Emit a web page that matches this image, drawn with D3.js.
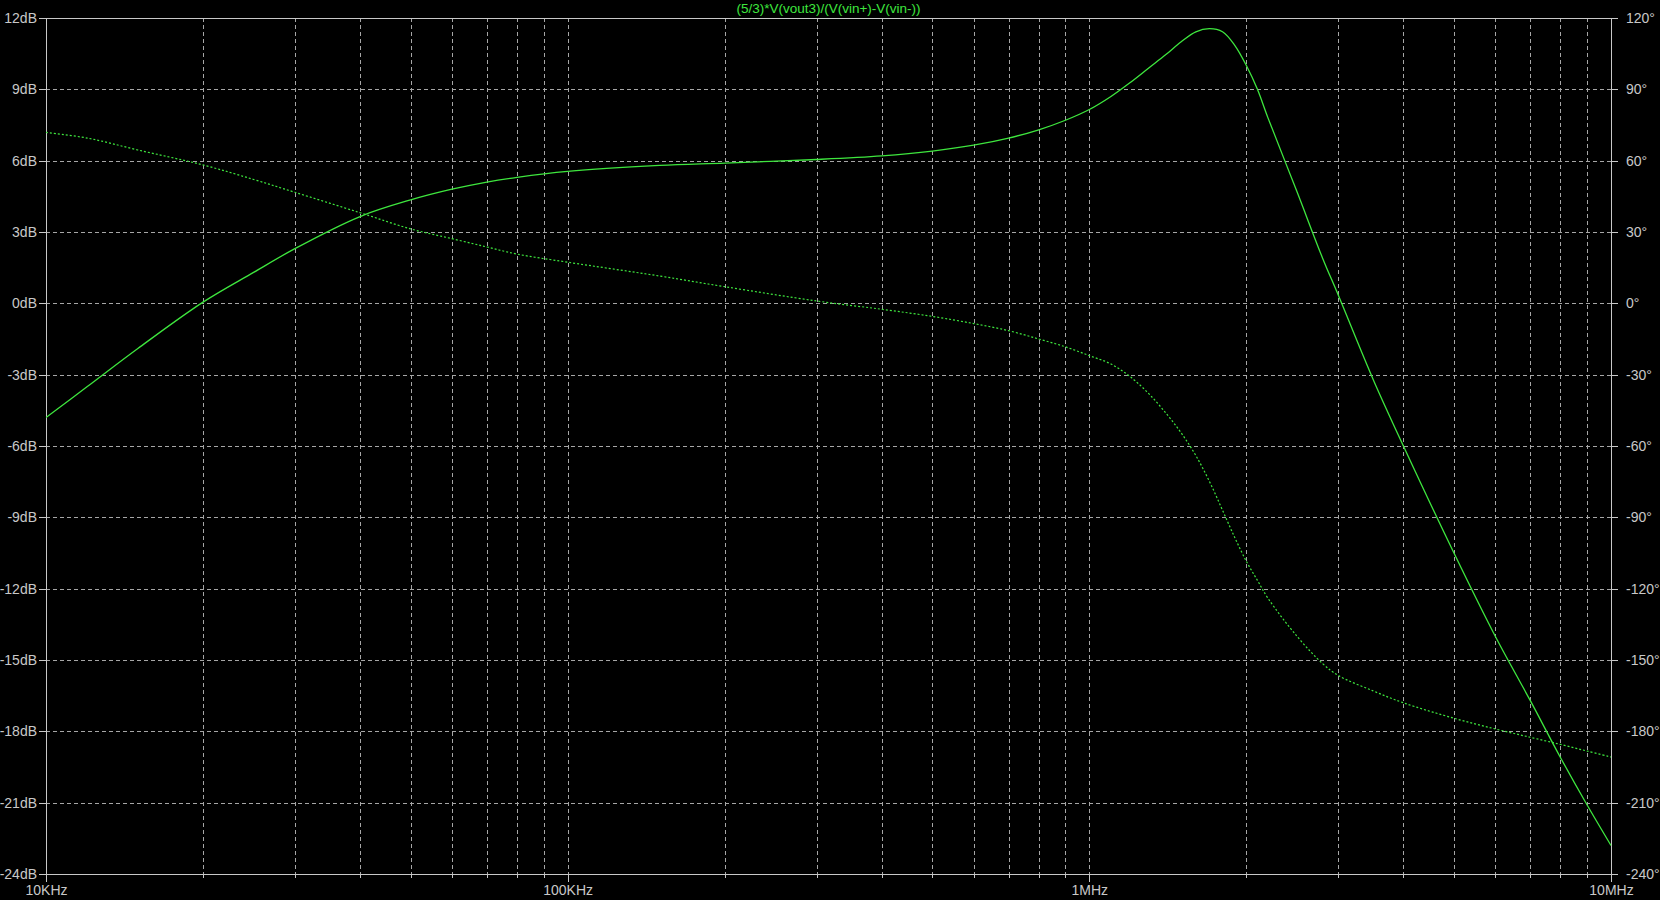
<!DOCTYPE html>
<html>
<head>
<meta charset="utf-8">
<script src="https://cdn.jsdelivr.net/npm/d3@7"></script>
<style>
  html, body { margin: 0; padding: 0; background: #000; }
  svg { display: block; }
</style>
</head>
<body>
<svg id="chart" width="1660" height="900"></svg>
<script>
// ---------- data ----------
const title = "(5/3)*V(vout3)/(V(vin+)-V(vin-))";

const freq = [1e4, 1.2e4, 1.5e4, 2e4, 2.5e4, 3e4, 4e4, 5e4, 6e4, 7e4, 8e4,
  1e5, 1.5e5, 2e5, 3e5, 4e5, 5e5, 6e5, 7e5, 8e5, 9e5,
  1e6, 1.1e6, 1.2e6, 1.3e6, 1.4e6, 1.5e6, 1.6e6, 1.7e6, 1.8e6, 1.9e6,
  2e6, 2.1e6, 2.2e6, 2.5e6, 2.8e6, 3e6, 3.5e6, 4e6, 5e6, 6e6, 7e6, 8e6, 9e6, 1e7];

const magDb = [-4.8, -3.5, -1.9, 0.05, 1.3, 2.3, 3.65, 4.35, 4.8, 5.1, 5.3,
  5.55, 5.8, 5.9, 6.05, 6.2, 6.4, 6.65, 6.95, 7.3, 7.7,
  8.15, 8.7, 9.3, 9.9, 10.45, 11.0, 11.42, 11.55, 11.42, 10.85,
  10.0, 9.0, 7.8, 4.7, 1.9, 0.35, -3.2, -6.0, -10.5, -14.0, -16.7, -19.1, -21.1, -22.8];

const phaseDeg = [71.9, 69.5, 64.5, 58.2, 52.1, 46.7, 38.1, 31.3, 27.2, 23.7, 20.7,
  17.3, 11.5, 7.0, 1.0, -2.5, -5.5, -8.5, -11.5, -15.0, -18.3,
  -22.0, -25.5, -31.0, -38.0, -46.0, -54.5, -64.0, -75.0, -87.0, -98.5,
  -108.5, -116.5, -124.0, -140.0, -151.5, -156.5, -163.0, -168.0, -174.5, -179.0, -182.5, -185.5, -188.3, -190.8];

const magTicks = [12, 9, 6, 3, 0, -3, -6, -9, -12, -15, -18, -21, -24];
const phaseTicks = [120, 90, 60, 30, 0, -30, -60, -90, -120, -150, -180, -210, -240];
const freqMajor = [1e4, 1e5, 1e6, 1e7];
const freqMajorLabels = ["10KHz", "100KHz", "1MHz", "10MHz"];
const freqMinor = [2e4,3e4,4e4,5e4,6e4,7e4,8e4,9e4, 2e5,3e5,4e5,5e5,6e5,7e5,8e5,9e5, 2e6,3e6,4e6,5e6,6e6,7e6,8e6,9e6];

// ---------- layout ----------
const L = 46, R = 1611, T = 18, B = 874;
const frameCol = "#c8c8c8", gridCol = "#a6a6a6", textCol = "#c8c8c8", traceCol = "#3ee63e";

const svg = d3.select("#chart");
svg.append("rect").attr("width", 1660).attr("height", 900).attr("fill", "#000");

const x = d3.scaleLog().domain([1e4, 1e7]).range([L, R]);
const yM = d3.scaleLinear().domain([-24, 12]).range([B, T]);
const yP = d3.scaleLinear().domain([-240, 120]).range([B, T]);

// grid
const grid = svg.append("g").attr("stroke", gridCol).attr("stroke-width", 1)
  .attr("stroke-dasharray", "4,3").attr("shape-rendering", "crispEdges");
grid.selectAll("line.h").data(magTicks.filter(d => d !== 12 && d !== -24)).enter()
  .append("line").attr("x1", L).attr("x2", R)
  .attr("y1", d => Math.round(yM(d)) + 0.5).attr("y2", d => Math.round(yM(d)) + 0.5);
grid.selectAll("line.v").data(freqMinor.concat([1e5, 1e6])).enter()
  .append("line").attr("y1", T).attr("y2", B)
  .attr("x1", d => Math.round(x(d)) + 0.5).attr("x2", d => Math.round(x(d)) + 0.5);

// axes
const fontFam = "'Liberation Sans', Arial, sans-serif";
function styleAxis(g) {
  g.select(".domain").remove();
  g.selectAll(".tick line").attr("stroke", frameCol).attr("shape-rendering", "crispEdges");
  g.selectAll(".tick text").attr("fill", textCol).style("font-family", fontFam).style("font-size", "14px");
}
svg.append("g").attr("transform", `translate(${L},0)`)
  .call(d3.axisLeft(yM).tickValues(magTicks).tickSize(7).tickPadding(2).tickFormat(d => d + "dB"))
  .call(styleAxis);
svg.append("g").attr("transform", `translate(${R},0)`)
  .call(d3.axisRight(yP).tickValues(phaseTicks).tickSize(7).tickPadding(8).tickFormat(d => d + "°"))
  .call(styleAxis);
svg.append("g").attr("transform", `translate(0,${B})`)
  .call(d3.axisBottom(x).tickValues(freqMajor).tickSize(8).tickPadding(3)
    .tickFormat((d, i) => freqMajorLabels[i]))
  .call(styleAxis);
svg.append("g").attr("transform", `translate(0,${B})`)
  .call(d3.axisBottom(x).tickValues(freqMinor).tickSize(4).tickFormat(""))
  .call(styleAxis);

// frame
svg.append("rect").attr("x", L + 0.5).attr("y", T + 0.5).attr("width", R - L).attr("height", B - T)
  .attr("fill", "none").attr("stroke", frameCol).attr("stroke-width", 1).attr("shape-rendering", "crispEdges");

// clip
svg.append("clipPath").attr("id", "plotclip").append("rect")
  .attr("x", L).attr("y", T).attr("width", R - L + 1).attr("height", B - T + 1);

const pts = freq.map((f, i) => ({ f, m: magDb[i], p: phaseDeg[i] }));
const plot = svg.append("g").attr("clip-path", "url(#plotclip)");
plot.append("path").datum(pts)
  .attr("d", d3.line().x(d => x(d.f)).y(d => yM(d.m)).curve(d3.curveCatmullRom.alpha(0.5)))
  .attr("fill", "none").attr("stroke", traceCol).attr("stroke-width", 1.3);
plot.append("path").datum(pts)
  .attr("d", d3.line().x(d => x(d.f)).y(d => yP(d.p)).curve(d3.curveCatmullRom.alpha(0.5)))
  .attr("fill", "none").attr("stroke", traceCol).attr("stroke-width", 1.2).attr("stroke-dasharray", "2,2");

// title
svg.append("text").attr("x", (L + R) / 2).attr("y", 13).attr("text-anchor", "middle")
  .attr("fill", "#3ee63e").style("font-family", fontFam).style("font-size", "13.5px")
  .text(title);
</script>
</body>
</html>
